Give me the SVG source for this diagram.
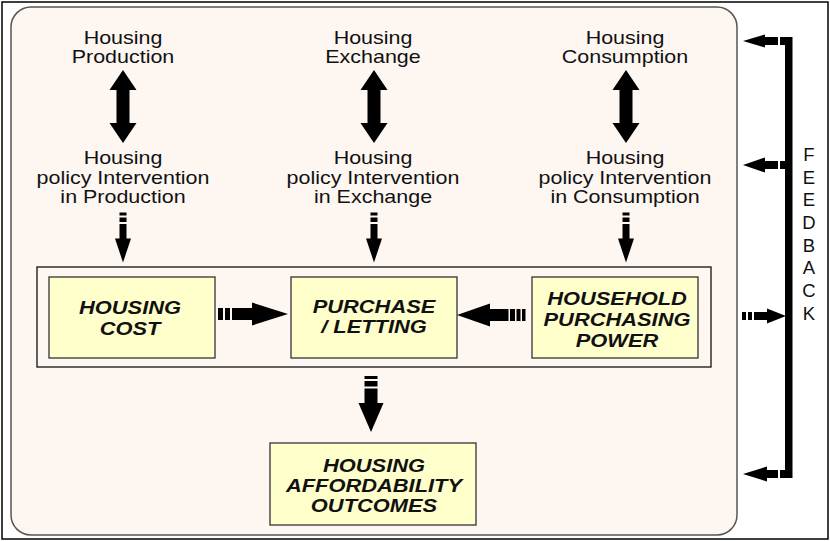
<svg xmlns="http://www.w3.org/2000/svg" xmlns:xlink="http://www.w3.org/1999/xlink" width="830" height="541" viewBox="0 0 830 541">
  <style>
    .frame { fill: #ffffff; stroke: #000000; stroke-width: 1.5; }
    .panel { fill: #fdf6f1; stroke: #555555; stroke-width: 1.5; }
    .group { fill: #fdf6f1; stroke: #111111; stroke-width: 1.3; }
    .box { fill: #ffffcc; stroke: #333333; stroke-width: 1.3; }
    .lbl { font-family: "Liberation Sans", Arial, sans-serif; font-size: 19px; fill: #111111; text-anchor: middle; }
    .key { font-family: "Liberation Sans", Arial, sans-serif; font-size: 17.5px; font-weight: bold; font-style: italic; fill: #111111; text-anchor: middle; }
    .fb { font-family: "Liberation Sans", Arial, sans-serif; font-size: 18.5px; fill: #111111; text-anchor: middle; }
    .ink { fill: #000000; }
  </style>
  <defs>
    <!-- two-headed vertical arrow, 73 tall, origin at top tip -->
    <polygon id="dbl" class="ink" points="0,0 13.5,20 6.5,20 6.5,53 13.5,53 0,73 -13.5,53 -6.5,53 -6.5,20 -13.5,20"/>
    <!-- small dashed down arrow, origin at top of first dash -->
    <g id="dn-small" class="ink">
      <rect x="-3.5" y="0" width="7" height="3"/>
      <rect x="-3.5" y="5" width="7" height="4.5"/>
      <rect x="-3.5" y="11.5" width="7" height="15"/>
      <polygon points="-8,26 8,26 0,50"/>
    </g>
  </defs>

  <rect class="frame" x="2" y="2" width="826" height="537"/>
  <rect class="panel" x="11" y="7" width="726" height="528" rx="20" ry="20"/>

  <!-- upper labels -->
  <g id="production">
    <text class="lbl" transform="translate(123 0) scale(1.13 1)"><tspan x="0" y="44">Housing</tspan><tspan x="0" y="63.5">Production</tspan></text>
  </g>
  <g id="exchange">
    <text class="lbl" transform="translate(373 0) scale(1.13 1)"><tspan x="0" y="44">Housing</tspan><tspan x="0" y="63.5">Exchange</tspan></text>
  </g>
  <g id="consumption">
    <text class="lbl" transform="translate(625 0) scale(1.13 1)"><tspan x="0" y="44">Housing</tspan><tspan x="0" y="63.5">Consumption</tspan></text>
  </g>
  <g id="policy-production">
    <text class="lbl" transform="translate(123 0) scale(1.13 1)"><tspan x="0" y="164.5">Housing</tspan><tspan x="0" y="184">policy Intervention</tspan><tspan x="0" y="203.5">in Production</tspan></text>
  </g>
  <g id="policy-exchange">
    <text class="lbl" transform="translate(373 0) scale(1.13 1)"><tspan x="0" y="164.5">Housing</tspan><tspan x="0" y="184">policy Intervention</tspan><tspan x="0" y="203.5">in Exchange</tspan></text>
  </g>
  <g id="policy-consumption">
    <text class="lbl" transform="translate(625 0) scale(1.13 1)"><tspan x="0" y="164.5">Housing</tspan><tspan x="0" y="184">policy Intervention</tspan><tspan x="0" y="203.5">in Consumption</tspan></text>
  </g>

  <!-- market block -->
  <g id="market">
    <rect class="group" x="37" y="267" width="674" height="100"/>
  </g>
  <g id="housing-cost">
    <rect class="box" x="49" y="277" width="166" height="81"/>
    <text class="key" transform="translate(130 0) scale(1.25 1)"><tspan x="0" y="314">HOUSING</tspan><tspan x="0" y="335">COST</tspan></text>
  </g>
  <g id="purchase-letting">
    <rect class="box" x="291" y="277" width="166" height="81"/>
    <text class="key" transform="translate(374 0) scale(1.25 1)"><tspan x="0" y="313.5">PURCHASE</tspan><tspan x="0" y="333.5">/ LETTING</tspan></text>
  </g>
  <g id="purchasing-power">
    <rect class="box" x="532" y="277" width="166" height="81"/>
    <text class="key" transform="translate(617 0) scale(1.25 1)"><tspan x="0" y="305">HOUSEHOLD</tspan><tspan x="0" y="326">PURCHASING</tspan><tspan x="0" y="347">POWER</tspan></text>
  </g>
  <g id="outcomes">
    <rect class="box" x="270" y="443" width="206" height="82"/>
    <text class="key" transform="translate(374 0) scale(1.25 1)"><tspan x="0" y="472">HOUSING</tspan><tspan x="0" y="492.5">AFFORDABILITY</tspan><tspan x="0" y="512">OUTCOMES</tspan></text>
  </g>

  <!-- feedback label -->
  <g id="feedback">
    <text class="fb"><tspan x="809" y="161">F</tspan><tspan x="809" y="183.7">E</tspan><tspan x="809" y="206.4">E</tspan><tspan x="809" y="229">D</tspan><tspan x="809" y="251.7">B</tspan><tspan x="809" y="274.4">A</tspan><tspan x="809" y="297">C</tspan><tspan x="809" y="320">K</tspan></text>
  </g>

  <g id="connectors">
    <!-- two-way links between each sphere and its policy -->
    <use xlink:href="#dbl" href="#dbl" x="123" y="70"/>
    <use xlink:href="#dbl" href="#dbl" x="374" y="70"/>
    <use xlink:href="#dbl" href="#dbl" x="626" y="70"/>

    <!-- policy into the market block -->
    <use xlink:href="#dn-small" href="#dn-small" x="123" y="212.5"/>
    <use xlink:href="#dn-small" href="#dn-small" x="374" y="212.5"/>
    <use xlink:href="#dn-small" href="#dn-small" x="626" y="212.5"/>

    <!-- cost into purchase -->
    <g class="ink">
      <rect x="218" y="308" width="5" height="12"/>
      <rect x="225" y="308" width="5" height="12"/>
      <rect x="232" y="308" width="21" height="12"/>
      <polygon points="252,302.5 288,314 252,325.5"/>
    </g>
    <!-- purchasing power into purchase -->
    <g class="ink">
      <rect x="522" y="309" width="3.5" height="12"/>
      <rect x="516.5" y="309" width="4" height="12"/>
      <rect x="510" y="309" width="5" height="12"/>
      <rect x="489" y="309" width="19.5" height="12"/>
      <polygon points="490,303.5 457,315 490,326.5"/>
    </g>
    <!-- purchase down to outcomes -->
    <g class="ink">
      <rect x="364.5" y="376" width="13" height="3"/>
      <rect x="364.5" y="381" width="13" height="5.5"/>
      <rect x="364.5" y="388.5" width="13" height="15"/>
      <polygon points="358.5,403 383.5,403 371,432"/>
    </g>

    <!-- feedback loop -->
    <g class="ink">
      <rect x="785" y="37" width="7.5" height="441"/>
      <!-- to production -->
      <rect x="764" y="37" width="14" height="8"/>
      <rect x="780" y="37" width="6" height="8"/>
      <polygon points="743,41 765,34.5 765,47.5"/>
      <!-- to policy -->
      <rect x="764" y="161" width="14" height="8"/>
      <rect x="780" y="161" width="6" height="8"/>
      <polygon points="743,165 765,157.5 765,172.5"/>
      <!-- from market block -->
      <rect x="742" y="312" width="4" height="8"/>
      <rect x="748" y="312" width="4" height="8"/>
      <rect x="754" y="312" width="14" height="8"/>
      <polygon points="767,308.5 786,316 767,323.5"/>
      <!-- to outcomes -->
      <rect x="766" y="470" width="12" height="8"/>
      <rect x="780" y="470" width="6" height="8"/>
      <polygon points="743,474 767,466.5 767,481.5"/>
    </g>
  </g>
</svg>
